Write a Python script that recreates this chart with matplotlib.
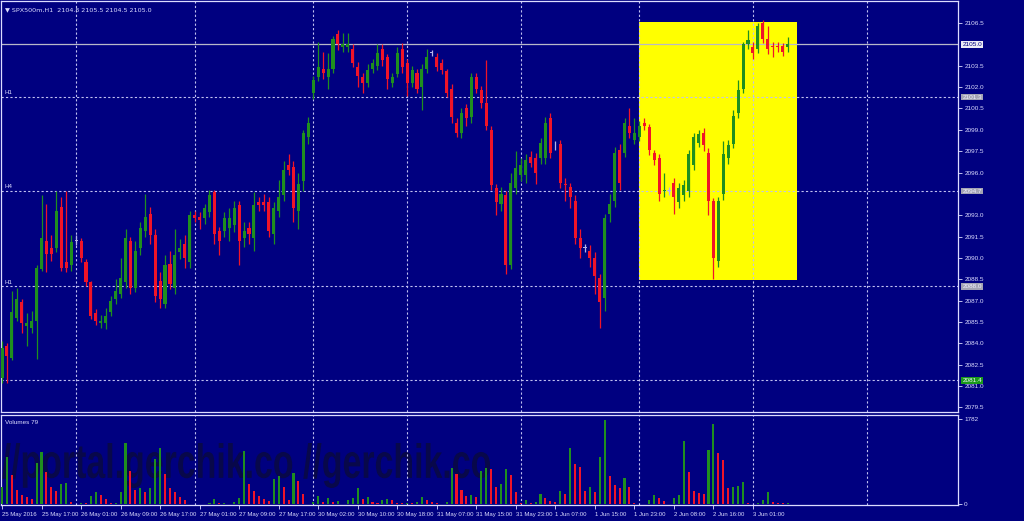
import numpy as np
import matplotlib.pyplot as plt
from matplotlib.patches import Rectangle, PathPatch
from matplotlib.textpath import TextPath
from matplotlib.font_manager import FontProperties
from matplotlib.transforms import Affine2D

# hourly bars, SPX500m H1
opens = [2081.6, 2083.8, 2083.0, 2085.8, 2086.9, 2085.2, 2085.1, 2085.6, 2089.2, 2091.2,
         2090.7, 2090.7, 2093.6, 2089.7, 2089.5, 2091.2, 2091.2, 2089.7, 2088.3, 2086.1,
         2085.4, 2085.4, 2086.2, 2087.1, 2087.5, 2088.3, 2091.2, 2087.9, 2090.7, 2091.9,
         2093.1, 2091.6, 2088.4, 2086.8, 2089.6, 2087.9, 2090.4, 2091.0, 2089.7, 2093.0,
         2092.9, 2092.8, 2093.2, 2094.6, 2091.9, 2091.9, 2092.1, 2092.3, 2093.7, 2091.4,
         2092.1, 2091.4, 2093.9, 2093.9, 2093.9, 2091.7, 2093.3, 2094.4, 2096.5, 2096.4,
         2093.3, 2095.4, 2098.5, 2101.6, 2102.7, 2103.3, 2102.7, 2103.3, 2105.7, 2104.8,
         2104.8, 2104.7, 2103.4, 2102.7, 2102.3, 2103.3, 2103.5, 2104.7, 2104.1, 2102.3,
         2102.9, 2104.7, 2103.7, 2102.3, 2103.0, 2102.0, 2103.3, 2104.4, 2104.1, 2103.7,
         2103.1, 2101.9, 2099.5, 2098.8, 2100.5, 2099.9, 2102.7, 2101.8, 2100.9, 2099.0,
         2094.9, 2093.8, 2094.4, 2089.5, 2094.9, 2095.8, 2095.8, 2097.1, 2097.0, 2097.0,
         2097.0, 2099.8, 2097.9, 2098.0, 2095.2, 2095.0, 2094.0, 2091.4, 2090.7, 2090.5,
         2090.0, 2088.6, 2087.2, 2093.1, 2094.0, 2097.6, 2097.4, 2099.3, 2098.3, 2098.5,
         2099.5, 2099.2, 2097.4, 2097.0, 2094.7, 2094.7, 2095.3, 2093.9, 2094.4, 2094.7,
         2096.5, 2098.1, 2098.8, 2097.4, 2094.0, 2089.8, 2094.5, 2097.0, 2098.0, 2100.2,
         2101.9, 2105.0, 2104.8, 2104.7, 2106.5, 2105.4, 2104.9, 2104.9, 2104.9, 2104.8]
highs = [2084.2, 2084.0, 2087.7, 2087.9, 2087.1, 2086.1, 2086.3, 2089.5, 2094.4, 2093.8,
         2091.6, 2094.7, 2094.3, 2094.7, 2091.6, 2091.6, 2091.4, 2089.9, 2088.4, 2086.4,
         2086.0, 2086.5, 2087.3, 2088.5, 2090.0, 2092.0, 2091.5, 2091.2, 2092.5, 2094.5,
         2093.6, 2092.0, 2089.0, 2090.2, 2090.5, 2092.0, 2091.3, 2091.6, 2093.3, 2093.3,
         2093.2, 2093.8, 2094.8, 2094.8, 2092.2, 2093.2, 2093.5, 2094.0, 2094.0, 2092.5,
         2092.5, 2094.6, 2094.3, 2094.5, 2094.3, 2093.9, 2095.5, 2096.8, 2097.3, 2096.8,
         2096.0, 2099.0, 2099.9, 2102.8, 2105.2, 2104.5, 2104.4, 2105.6, 2106.0, 2105.8,
         2105.8, 2105.0, 2103.8, 2103.0, 2103.6, 2104.0, 2105.0, 2105.0, 2104.3, 2103.0,
         2104.8, 2105.1, 2104.0, 2103.5, 2103.3, 2103.6, 2104.7, 2104.6, 2104.4, 2104.0,
         2103.3, 2102.2, 2099.8, 2100.5, 2100.8, 2103.0, 2103.0, 2102.1, 2103.9, 2099.3,
         2095.2, 2095.0, 2094.7, 2096.0, 2097.5, 2097.0, 2097.3, 2097.5, 2097.4, 2098.4,
         2099.9, 2100.2, 2098.2, 2098.3, 2095.6, 2095.3, 2094.4, 2092.0, 2091.0, 2090.9,
         2090.4, 2088.9, 2093.1, 2094.5, 2097.8, 2098.0, 2099.8, 2100.5, 2099.8, 2099.6,
         2099.8, 2099.4, 2097.6, 2097.3, 2096.0, 2095.0, 2095.6, 2095.3, 2095.5, 2097.6,
         2098.8, 2099.0, 2099.1, 2097.7, 2094.2, 2094.3, 2098.2, 2098.3, 2100.4, 2102.5,
         2105.2, 2106.0, 2105.2, 2106.5, 2106.7, 2106.3, 2105.2, 2105.2, 2105.1, 2105.5]
lows = [2081.2, 2081.2, 2082.8, 2085.6, 2084.7, 2083.8, 2084.7, 2082.9, 2089.1, 2089.0,
        2089.8, 2090.4, 2089.1, 2089.0, 2089.1, 2090.9, 2089.7, 2088.0, 2085.7, 2085.3,
        2085.1, 2085.0, 2085.9, 2086.8, 2087.2, 2087.9, 2087.5, 2087.6, 2090.2, 2091.5,
        2091.0, 2086.9, 2086.5, 2086.5, 2087.8, 2087.5, 2089.9, 2089.3, 2089.3, 2092.5,
        2092.0, 2092.4, 2092.9, 2091.0, 2090.2, 2091.5, 2091.2, 2091.8, 2089.5, 2090.8,
        2091.0, 2090.5, 2093.3, 2093.3, 2091.5, 2091.0, 2092.9, 2094.0, 2095.8, 2092.5,
        2092.0, 2094.7, 2098.0, 2101.2, 2102.4, 2102.6, 2101.9, 2103.0, 2104.6, 2104.5,
        2104.5, 2103.4, 2102.0, 2101.6, 2102.0, 2103.0, 2103.2, 2103.5, 2101.9, 2102.0,
        2102.7, 2103.0, 2101.4, 2102.0, 2101.6, 2100.4, 2103.0, 2104.2, 2103.1, 2102.9,
        2101.3, 2099.5, 2098.5, 2098.4, 2099.3, 2099.5, 2101.6, 2100.5, 2099.0, 2094.8,
        2093.0, 2093.3, 2088.9, 2089.2, 2094.5, 2095.4, 2095.3, 2096.4, 2095.2, 2096.6,
        2096.6, 2097.0, 2097.6, 2094.9, 2094.0, 2093.5, 2091.0, 2090.0, 2090.4, 2089.4,
        2087.5, 2085.1, 2086.3, 2092.5, 2093.6, 2094.8, 2097.1, 2098.4, 2098.0, 2098.2,
        2099.0, 2097.2, 2096.5, 2094.0, 2094.3, 2094.4, 2093.1, 2093.5, 2094.0, 2094.3,
        2096.2, 2097.8, 2097.5, 2093.0, 2088.5, 2089.4, 2094.1, 2096.6, 2097.7, 2099.8,
        2101.6, 2104.7, 2104.0, 2104.4, 2105.1, 2104.3, 2104.1, 2104.5, 2104.2, 2104.5]
closes = [2083.7, 2083.1, 2086.2, 2087.1, 2085.4, 2085.4, 2085.6, 2089.3, 2091.4, 2090.3,
          2090.3, 2093.3, 2089.3, 2089.3, 2091.1, 2091.2, 2090.0, 2088.3, 2085.9, 2085.6,
          2085.6, 2085.9, 2087.0, 2087.7, 2088.6, 2091.4, 2087.9, 2090.5, 2092.1, 2092.9,
          2091.6, 2087.3, 2087.1, 2089.5, 2088.2, 2090.2, 2090.7, 2090.0, 2093.0, 2092.8,
          2092.7, 2093.5, 2094.4, 2091.7, 2091.2, 2092.8, 2092.8, 2093.5, 2091.2, 2091.9,
          2091.7, 2093.7, 2093.7, 2093.7, 2091.9, 2093.5, 2094.3, 2096.2, 2096.2, 2093.5,
          2095.2, 2098.8, 2099.5, 2102.5, 2103.4, 2103.0, 2103.3, 2105.4, 2105.0, 2105.0,
          2105.0, 2103.7, 2102.8, 2102.3, 2103.2, 2103.7, 2104.4, 2103.9, 2102.6, 2102.7,
          2104.4, 2103.4, 2102.3, 2103.2, 2101.9, 2103.3, 2104.1, 2104.4, 2103.4, 2103.2,
          2101.6, 2099.9, 2098.8, 2100.2, 2099.8, 2102.7, 2101.9, 2100.9, 2099.3, 2095.1,
          2093.9, 2094.5, 2089.5, 2095.3, 2096.3, 2096.5, 2096.9, 2096.7, 2096.0, 2098.1,
          2099.5, 2097.4, 2097.9, 2095.3, 2095.1, 2094.3, 2091.4, 2090.7, 2090.7, 2090.0,
          2088.7, 2086.9, 2092.8, 2093.8, 2097.4, 2095.3, 2099.5, 2098.8, 2098.8, 2099.3,
          2099.3, 2097.6, 2096.9, 2094.5, 2094.8, 2094.7, 2094.3, 2094.9, 2095.1, 2097.3,
          2098.5, 2098.7, 2097.9, 2094.0, 2090.0, 2094.0, 2097.3, 2097.9, 2100.0, 2101.8,
          2105.0, 2105.3, 2104.4, 2106.3, 2105.4, 2104.7, 2104.8, 2104.8, 2104.5, 2105.0]
volumes = [363, 992, 608, 293, 189, 153, 105, 859, 1096, 677,
           356, 279, 419, 440, 49, 10, 21, 15, 168, 258,
           189, 105, 21, 28, 258, 1285, 692, 293, 335, 258,
           342, 936, 1167, 629, 328, 258, 140, 84, 7, 3,
           6, 3, 21, 112, 14, 18, 2, 35, 118, 1117,
           419, 279, 168, 105, 70, 524, 587, 349, 84, 657,
           489, 210, 3, 40, 168, 49, 119, 49, 56, 7,
           84, 119, 342, 105, 140, 49, 21, 84, 98, 84,
           21, 14, 20, 14, 49, 140, 84, 35, 14, 5,
           49, 750, 630, 294, 174, 180, 140, 700, 750, 735,
           363, 420, 735, 615, 252, 30, 84, 14, 49, 210,
           119, 63, 49, 279, 210, 1167, 838, 782, 279, 363,
           258, 992, 1775, 587, 398, 335, 538, 363, 14, 10,
           3, 84, 189, 119, 70, 7, 119, 189, 1327, 671,
           272, 224, 220, 1125, 1677, 1062, 922, 335, 363, 370,
           468, 14, 7, 12, 84, 258, 49, 28, 14, 18]

date_labels = ['25 May 2016', '25 May 17:00', '26 May 01:00', '26 May 09:00', '26 May 17:00',
               '27 May 01:00', '27 May 09:00', '27 May 17:00', '30 May 02:00', '30 May 10:00',
               '30 May 18:00', '31 May 07:00', '31 May 15:00', '31 May 23:00', '1 Jun 07:00',
               '1 Jun 15:00', '1 Jun 23:00', '2 Jun 08:00', '2 Jun 16:00', '3 Jun 01:00']
day_breaks = [15, 39, 63, 82, 105, 129, 152, 175]
levels = [2101.3, 2094.7, 2088.0, 2081.4]
level_names = ['H1', 'H4', 'H1', '']
bid = 2105.0
box_x = (128.95, 160.9)
box_y = (2088.47, 2106.57)

BG = '#000080'
FG = '#dcdcff'
BULL = '#1f8f1f'
BEAR = '#f01428'
DOJI = '#b4b4e8'
GRID = '#c0c0f0'
FONT = ['Liberation Sans', 'DejaVu Sans']
plt.rcParams['font.family'] = FONT

W, H = 1024, 521
fig = plt.figure(figsize=(W / 100, H / 100), dpi=100, facecolor=BG)


def rect(x0, y0, x1, y1):
    return [x0 / W, 1 - y1 / H, (x1 - x0) / W, (y1 - y0) / H]


ax = fig.add_axes(rect(1, 1, 958, 412))
axv = fig.add_axes(rect(1, 415, 958, 505))
ax.set_facecolor(BG)
axv.set_facecolor('none')

n = len(opens)
idx = np.arange(n)
o = np.array(opens)
c = np.array(closes)
cols = np.where(c > o, BULL, np.where(c < o, BEAR, DOJI))

xlim = (-0.2, 193.5)
ax.set_xlim(*xlim)
ax.set_ylim(2079.18, 2108.05)

ax.add_patch(Rectangle((box_x[0], box_y[0]), box_x[1] - box_x[0], box_y[1] - box_y[0],
                       facecolor='#ffff00', edgecolor='none', zorder=1))

for b in day_breaks:
    ax.axvline(b, color=GRID, lw=0.8, ls=(0, (2, 2)), zorder=2)
    axv.axvline(b, color=GRID, lw=0.8, ls=(0, (2, 2)), zorder=2)
for lv, nm in zip(levels, level_names):
    ax.axhline(lv, color=GRID, lw=0.8, ls=(0, (2, 2)), zorder=2)
    if nm:
        ax.text(0.6, lv + 0.12, nm, color=FG, fontsize=4.4, va='bottom', ha='left', zorder=5)
ax.axhline(bid, color='#b8b8c8', lw=0.9, zorder=2)

ax.vlines(idx, lows, highs, colors=cols, lw=0.9, zorder=3)
ax.bar(idx, np.maximum(np.abs(c - o), 0.07), 0.62, bottom=np.minimum(o, c),
       color=cols, linewidth=0, zorder=4)

# volumes: green when volume rises, red when it falls
v = np.array(volumes)
vcols = [BULL] + [BULL if v[i] > v[i - 1] else BEAR for i in range(1, n)]
axv.bar(idx, v, 0.42, color=vcols, linewidth=0, zorder=3)
axv.set_xlim(*xlim)
axv.set_ylim(-20, 1870)

# watermark
fp = FontProperties(family='Liberation Sans', weight='bold')
tp = TextPath((0, 0), '//portal.gerchik.co //gerchik.co', size=40, prop=fp)
ext = tp.get_extents()
sx = 488 / ext.width
sy = 45 / ext.height
tr = Affine2D().translate(-ext.x0, -ext.y0).scale(sx, sy).translate(2, H - 488)
fig.add_artist(PathPatch(tp, transform=tr, facecolor='#08084a', edgecolor='none', zorder=-1))

for a in (ax, axv):
    for s in a.spines.values():
        s.set_color(FG)
        s.set_linewidth(0.9)
    a.yaxis.tick_right()
    a.tick_params(colors=FG, labelsize=4.6, length=3, width=0.6, pad=1.5)

ax.set_xticks([])
yt = [t for t in np.arange(2079.5, 2107.0, 1.5) if min(abs(t - lv) for lv in [bid] + levels[:2]) > 0.4]
ax.set_yticks(yt)
ax.set_yticklabels([f'{t:.1f}' for t in yt])
axv.set_yticks([0, 1782])
axv.set_yticklabels(['0', '1782'])
axv.set_xticks(np.arange(0, 8 * len(date_labels), 8))
axv.set_xticklabels(date_labels, ha='left')
axv.tick_params(axis='x', labelsize=4.3, pad=2)

tf = ax.get_yaxis_transform()
boxes = [(bid, '#ececf4', BG), (levels[0], '#a4a4b4', '#f0f0ff'),
         (levels[1], '#a4a4b4', '#f0f0ff'), (levels[2], '#a4a4b4', '#f0f0ff'),
         (levels[3], '#1a9a1a', '#f0f0ff')]
for lv, fc, tc in boxes:
    ax.text(1.0045, lv, f'{lv:.1f}', transform=tf, fontsize=4.6, color=tc, va='center',
            ha='left', zorder=6, clip_on=False,
            bbox=dict(facecolor=fc, edgecolor='none', pad=0.6))

ax.text(0.004, 0.985, '\u25bc SPX500m,H1  2104.8 2105.5 2104.5 2105.0', transform=ax.transAxes,
        color=FG, fontsize=4.6, va='top', ha='left', family=['DejaVu Sans'])
axv.text(0.004, 0.95, 'Volumes 79', transform=axv.transAxes, color=FG, fontsize=4.6,
         va='top', ha='left')

fig.savefig('out.png', dpi=100, facecolor=BG)
